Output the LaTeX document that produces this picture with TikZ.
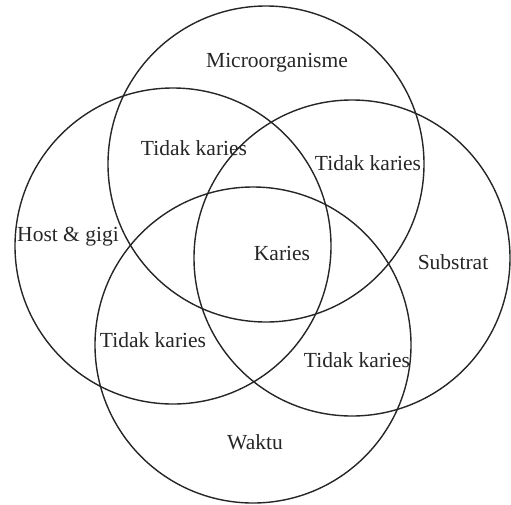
\documentclass[tikz,border=0pt]{standalone}
\usepackage{fontspec}
\setmainfont{Liberation Serif}
\begin{document}
\begin{tikzpicture}[x=1pt,y=-1pt,
  setcircle/.style={draw=black!85, line width=1.4pt, circle, minimum size=316pt, inner sep=0pt},
  lbl/.style={font=\fontsize{21.5}{23}\selectfont, text=black!85, inner sep=0pt}]
\useasboundingbox (0,0) rectangle (511,504);
\node[setcircle] (micro) at (266,164) {};
\node[setcircle] (host) at (173,246) {};
\node[setcircle] (sub) at (352,258) {};
\node[setcircle] (waktu) at (253,345) {};
\node[lbl] (tmicro) at (277,63) {Microorganisme};
\node[lbl] (t1) at (194,148) {Tidak karies};
\node[lbl] (t2) at (368,163) {Tidak karies};
\node[lbl] (thost) at (68,237) {Host \& gigi};
\node[lbl] (tkaries) at (282,253) {Karies};
\node[lbl] (tsub) at (453,262) {Substrat};
\node[lbl] (t3) at (153,340) {Tidak karies};
\node[lbl] (t4) at (357,360) {Tidak karies};
\node[lbl] (twaktu) at (255,442) {Waktu};
\end{tikzpicture}
\end{document}
